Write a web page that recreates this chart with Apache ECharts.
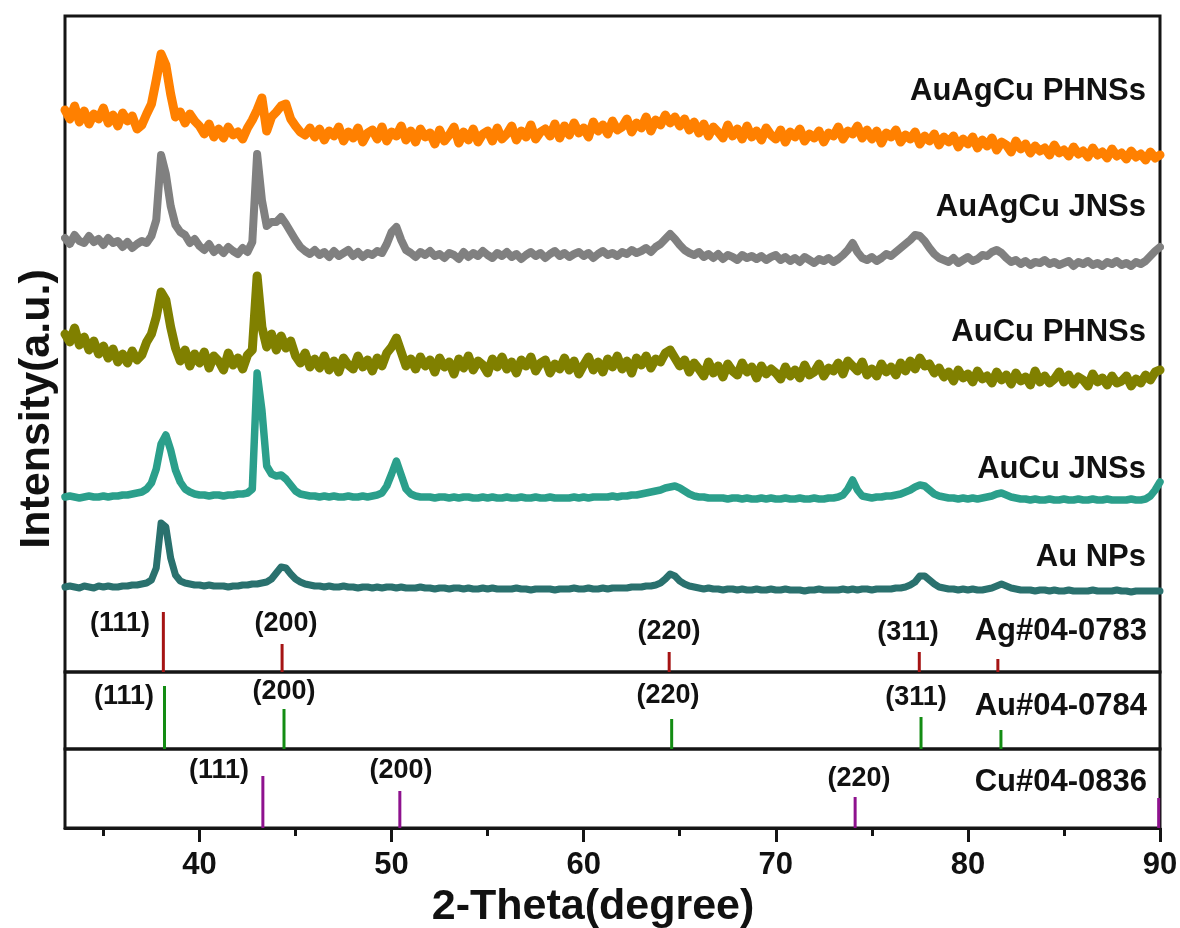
<!DOCTYPE html>
<html>
<head>
<meta charset="utf-8">
<title>XRD patterns</title>
<script src="https://cdn.jsdelivr.net/npm/echarts@6/dist/echarts.min.js"></script>
<style>
  html, body { margin: 0; padding: 0; background: #ffffff; }
  #chart { width: 1180px; height: 928px; }
</style>
</head>
<body>
<div id="chart"></div>
<script>
// 2-theta sampling: 33.00 .. 90.00 in 0.25 degree steps (one row = one degree)
const TT_START = 33;
const TT_STEP = 0.25;

// Measured intensities (a.u., stacked offsets included)
const auNPs = [
  85,86,85,84, 86,85,84,86, 85,86,85,85, 86,86,87,87,
  88,89,92,104, 149,145,114,97, 91,89,88,87, 87,86,87,86,
  86,86,85,86, 86,87,87,88, 88,89,90,93, 99,105,104,98,
  93,90,88,87, 86,86,85,86, 85,85,86,85, 85,84,85,85,
  84,85,84,85, 85,84,85,84, 84,84,85,84, 84,83,84,84,
  83,84,84,83, 84,83,83,84, 83,84,83,83, 83,83,84,83,
  83,82,83,83, 83,83,82,83, 83,83,84,83, 83,84,83,83,
  84,83,84,84, 84,84,85,85, 85,86,86,87, 89,93,98,96,
  91,88,86,85, 84,83,84,83, 83,82,83,83, 82,83,82,82,
  83,82,82,83, 82,82,83,82, 82,82,81,82, 82,83,82,82,
  82,82,83,82, 83,82,83,83, 82,83,83,83, 83,84,84,85,
  87,90,96,96, 92,88,85,84, 83,83,82,83, 82,83,82,82,
  83,84,86,88, 86,84,83,82, 82,82,81,82, 82,81,82,81,
  81,82,81,81, 81,81,82,81, 81,81,81,82, 81,81,80,81,
  81,81,81,81, 81
];

const auCuJNSs = [
  175,176,175,174, 175,176,175,175, 176,175,176,176, 177,177,178,179,
  180,183,189,203, 228,237,222,202, 190,183,180,178, 177,177,176,177,
  177,176,177,177, 178,178,179,183, 299,262,206,198, 196,197,193,187,
  181,178,177,176, 176,175,176,175, 176,175,175,176, 175,175,176,175,
  176,177,179,186, 198,211,197,183, 178,176,175,175, 175,174,175,175,
  174,175,174,175, 175,174,174,175, 174,175,174,174, 175,174,174,175,
  174,174,175,174, 174,175,174,174, 174,174,175,174, 175,174,175,175,
  175,175,176,175, 176,176,177,177, 178,179,180,181, 182,184,185,186,
  184,181,178,176, 175,175,174,174, 174,174,173,174, 174,173,174,173,
  173,174,173,174, 173,173,174,173, 173,174,173,173, 174,173,173,174,
  174,175,177,183, 192,182,176,175, 174,175,175,176, 176,177,178,180,
  182,185,187,186, 182,178,176,175, 174,174,173,174, 173,174,173,174,
  175,176,178,179, 177,175,174,173, 173,172,173,172, 172,173,172,172,
  173,172,172,173, 172,172,173,172, 172,173,172,172, 172,172,173,172,
  172,173,176,182, 190
];

const auCuPHNSs = [
  338,330,344,327, 335,322,331,318, 326,314,323,310, 318,309,321,312,
  317,330,338,355, 380,372,345,324, 311,322,306,318, 309,320,304,316,
  311,302,319,307, 314,303,317,322, 396,345,325,338, 322,336,324,331,
  316,309,319,305, 313,304,316,302, 311,300,314,307, 303,316,305,312,
  301,314,306,319, 325,334,320,306, 313,303,315,306, 312,300,314,305,
  310,298,313,304, 316,302,311,307, 299,313,305,315, 303,310,299,312,
  306,315,301,309, 312,299,308,303, 314,302,311,298, 307,315,302,310,
  300,313,305,316, 303,311,299,314, 307,316,304,313, 310,319,322,314,
  306,312,300,309, 303,296,310,299, 306,295,308,301, 297,309,300,305,
  294,306,298,303, 299,293,305,296, 302,294,307,297, 300,308,296,304,
  301,309,298,311, 306,301,310,297, 303,296,308,300, 305,297,309,301,
  311,303,314,306, 308,299,304,295, 300,291,302,294, 298,290,301,293,
  296,289,300,292, 297,288,299,291, 295,287,301,290, 296,289,293,300,
  290,297,288,295, 292,286,298,290, 294,287,296,289, 291,296,286,293,
  289,297,292,300, 302
];

const auAgCuJNSs = [
  434,428,437,431, 429,436,430,433, 427,434,429,431, 425,430,424,428,
  431,429,436,452, 517,498,466,447, 440,437,429,433, 426,422,428,420,
  424,419,425,421, 418,424,420,430, 518,472,446,450, 450,455,448,440,
  432,425,421,418, 422,417,420,415, 421,416,419,422, 416,420,415,419,
  417,421,419,428, 440,445,432,422, 419,415,420,417, 421,416,418,414,
  419,417,413,420, 415,419,416,421, 417,414,419,416, 420,415,418,413,
  417,420,416,419, 414,418,421,416, 419,415,418,420, 416,419,414,418,
  421,417,419,416, 420,418,422,419, 421,424,420,425, 428,433,438,433,
  427,422,419,417, 420,415,418,414, 418,413,417,415, 412,417,414,416,
  413,416,412,415, 417,412,415,411, 414,410,415,412, 409,413,411,414,
  410,413,417,422, 429,420,414,412, 415,411,414,418, 416,420,424,428,
  432,437,436,431, 424,418,414,412, 410,414,409,412, 415,411,413,417,
  416,420,422,419, 414,410,412,408, 411,407,410,409, 412,408,410,407,
  409,411,406,410, 408,411,407,409, 406,410,408,411, 407,409,406,410,
  408,411,416,421, 425
];

const auAgCuPHNSs = [
  562,553,566,550, 561,548,558,553, 564,549,557,546, 559,551,556,543,
  547,558,568,592, 618,607,578,555, 560,549,558,551, 546,538,548,535,
  543,534,545,537, 540,533,544,552, 562,574,541,555, 560,566,568,553,
  546,540,537,544, 535,543,532,541, 536,545,531,540, 534,544,530,539,
  542,533,545,531, 540,536,546,532, 541,530,543,535, 539,528,542,531,
  537,545,529,540, 532,543,530,538, 541,531,544,533, 538,546,532,541,
  535,547,533,540, 543,536,548,534, 546,537,549,539, 544,535,550,541,
  547,538,551,542, 545,553,540,549, 544,555,541,552, 547,557,549,555,
  546,553,542,550, 539,548,536,545, 540,534,547,536, 543,533,546,535,
  541,532,544,537, 533,542,530,540, 535,543,531,538, 534,541,530,539,
  536,545,533,541, 538,546,534,542, 533,541,529,539, 535,542,530,537,
  533,540,528,536, 531,538,527,535, 530,536,525,533, 528,535,524,532,
  526,534,522,530, 527,520,531,523, 528,519,526,521, 524,517,527,519,
  522,516,525,518, 521,515,524,517, 520,514,523,516, 519,513,521,515,
  518,512,520,514, 517
];

// Standard reference patterns (peak position, relative stick height)
const agPeaks = [38.12, 44.30, 64.45, 77.47, 81.56];
const agInt   = [60, 28, 20, 20, 13];
const auPeaks = [38.18, 44.40, 64.58, 77.56, 81.72];
const auInt   = [63, 40, 30, 32, 19];
const cuPeaks = [43.30, 50.43, 74.13, 89.93];
const cuInt   = [52, 37, 31, 30];

const hklAg = ['(111)', '(200)', '(220)', '(311)'];
const hklAu = ['(111)', '(200)', '(220)', '(311)'];
const hklCu = ['(111)', '(200)', '(220)'];
const cardNames = ['Ag#04-0783', 'Au#04-0784', 'Cu#04-0836'];
const sampleNames = ['Au NPs', 'AuCu JNSs', 'AuCu PHNSs', 'AuAgCu JNSs', 'AuAgCu PHNSs'];

const majorTicks = [40, 50, 60, 70, 80, 90];
const minorTicks = [35, 45, 55, 65, 75, 85];

const twoTheta = auNPs.map((_, i) => +(TT_START + i * TT_STEP).toFixed(2));
const pairs = (ys) => ys.map((y, i) => [twoTheta[i], y]);
const sticks = (xs, hs) => xs.map((x, i) => [x, hs[i]]);

const FONT = '"Liberation Sans", Arial, Helvetica, sans-serif';
const X_MIN = 33, X_MAX = 90;

const sampleColors = ['#2a716e', '#2b9f8b', '#808000', '#808080', '#ff8000'];
const sampleWidths = [7, 7.5, 9, 8, 9];
const sampleSeries = [auNPs, auCuJNSs, auCuPHNSs, auAgCuJNSs, auAgCuPHNSs];

function stickSeries(name, data, color, idx) {
  return {
    name, type: 'custom', xAxisIndex: idx, yAxisIndex: idx,
    data,
    renderItem: (params, api) => {
      const p0 = api.coord([api.value(0), 0]);
      const p1 = api.coord([api.value(0), api.value(1)]);
      return {
        type: 'line',
        shape: { x1: p0[0], y1: p0[1], x2: p1[0], y2: p1[1] },
        style: { stroke: color, lineWidth: 3 }
      };
    },
    z: 3
  };
}

function label(text, x, y, size, align, extra) {
  return Object.assign({
    type: 'text', x, y, silent: true, z: 20,
    style: {
      text, fill: '#111111',
      font: 'bold ' + size + 'px ' + FONT,
      textAlign: align, textVerticalAlign: 'middle',
      align: align, verticalAlign: 'middle'
    }
  }, extra || {});
}

const gridBase = { left: 65, right: 20, show: true, borderColor: '#151515', borderWidth: 3, outerBoundsMode: 'none', containLabel: false };
const hiddenX = (gi) => ({ type: 'value', gridIndex: gi, min: X_MIN, max: X_MAX, show: false });

const option = {
  animation: false,
  backgroundColor: '#ffffff',
  grid: [
    Object.assign({ top: 16, bottom: 256 }, gridBase),   // spectra + Ag card
    Object.assign({ top: 672, bottom: 179 }, gridBase),  // Au card
    Object.assign({ top: 749, bottom: 100 }, gridBase)   // Cu card + 2-theta axis
  ],
  xAxis: [
    hiddenX(0),
    hiddenX(1),
    {
      type: 'value', gridIndex: 2, min: X_MIN, max: X_MAX, position: 'bottom',
      axisLine: { show: true, lineStyle: { color: '#151515', width: 3 } },
      axisTick: { show: true, inside: false, length: 14, customValues: majorTicks, lineStyle: { color: '#151515', width: 3 } },
      axisLabel: { show: true, customValues: majorTicks, margin: 22, color: '#111111', fontSize: 31, fontWeight: 'bold', fontFamily: FONT },
      splitLine: { show: false }
    },
    {
      type: 'value', gridIndex: 2, min: X_MIN, max: X_MAX, position: 'bottom',
      axisLine: { show: false },
      axisTick: { show: true, inside: false, length: 8, customValues: minorTicks, lineStyle: { color: '#151515', width: 3 } },
      axisLabel: { show: false },
      splitLine: { show: false }
    }
  ],
  yAxis: [
    { type: 'value', gridIndex: 0, min: 0, max: 656, show: false },
    { type: 'value', gridIndex: 1, min: 0, max: 77, show: false },
    { type: 'value', gridIndex: 2, min: 0, max: 79, show: false }
  ],
  series: [
    ...sampleSeries.map((ys, i) => ({
      name: sampleNames[i], type: 'line', xAxisIndex: 0, yAxisIndex: 0,
      data: pairs(ys), showSymbol: false, symbol: 'none',
      lineStyle: { color: sampleColors[i], width: sampleWidths[i], join: 'round', cap: 'round' },
      z: 2
    })),
    stickSeries('Ag', sticks(agPeaks, agInt), '#a51414', 0),
    stickSeries('Au', sticks(auPeaks, auInt), '#138c13', 1),
    stickSeries('Cu', sticks(cuPeaks, cuInt), '#8e128e', 2)
  ],
  graphic: [
    // sample names
    label(sampleNames[4], 1146, 91, 31, 'right'),
    label(sampleNames[3], 1146, 207, 31, 'right'),
    label(sampleNames[2], 1146, 332, 31, 'right'),
    label(sampleNames[1], 1146, 469, 31, 'right'),
    label(sampleNames[0], 1146, 557, 31, 'right'),
    // reference cards
    label(cardNames[0], 1147, 631, 31, 'right'),
    label(cardNames[1], 1147, 706, 31, 'right'),
    label(cardNames[2], 1147, 782, 31, 'right'),
    // Miller indices, Ag
    label(hklAg[0], 120, 624, 27, 'center'),
    label(hklAg[1], 286, 624, 27, 'center'),
    label(hklAg[2], 669, 632, 27, 'center'),
    label(hklAg[3], 908, 633, 27, 'center'),
    // Miller indices, Au
    label(hklAu[0], 124, 697, 27, 'center'),
    label(hklAu[1], 284, 692, 27, 'center'),
    label(hklAu[2], 668, 696, 27, 'center'),
    label(hklAu[3], 916, 698, 27, 'center'),
    // Miller indices, Cu
    label(hklCu[0], 219, 771, 27, 'center'),
    label(hklCu[1], 401, 771, 27, 'center'),
    label(hklCu[2], 859, 779, 27, 'center'),
    // axis titles
    label('2-Theta(degree)', 593, 907, 43, 'center'),
    label('Intensity(a.u.)', 37, 409, 43, 'center', { rotation: Math.PI / 2 })
  ]
};

const chart = echarts.init(document.getElementById('chart'), null, { renderer: 'canvas' });
chart.setOption(option);
</script>
</body>
</html>
